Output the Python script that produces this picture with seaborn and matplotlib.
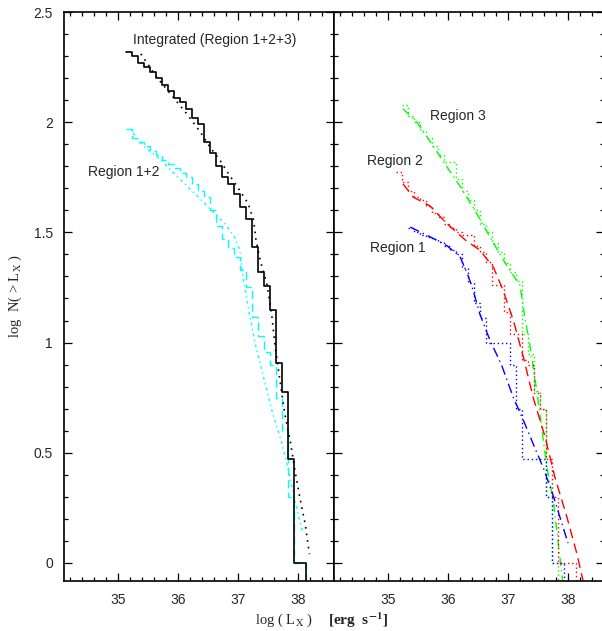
import numpy as np
import matplotlib
matplotlib.use("Agg")
import matplotlib.pyplot as plt
from matplotlib.ticker import MultipleLocator, FixedLocator, FixedFormatter
import seaborn as sns

# --- data (log L_X bins and cumulative log N(>L_X)) ---
bin_edges = np.round(np.arange(35.14, 38.25, 0.1), 2)

# step curves: first bin index + log N per bin
integ_start = 0
integ_logn = [2.317, 2.30, 2.27, 2.25, 2.23, 2.20, 2.17, 2.14, 2.11, 2.09,
              2.06, 2.02, 1.99, 1.91, 1.86, 1.80, 1.75, 1.72, 1.676, 1.615,
              1.56, 1.433, 1.32, 1.255, 1.146, 0.906, 0.777, 0.47, 0.0, 0.0]
reg12_start = 0
reg12_logn = [1.968, 1.93, 1.91, 1.89, 1.87, 1.85, 1.83, 1.81, 1.79, 1.77,
              1.75, 1.72, 1.69, 1.66, 1.60, 1.53, 1.47, 1.43, 1.39, 1.33,
              1.25, 1.115, 1.03, 0.956, 0.90, 0.75, 0.60, 0.30, 0.0, 0.0]
reg3_start = 1
reg3_logn = [2.08, 2.03, 2.00, 1.96, 1.93, 1.89, 1.85, 1.82, 1.82, 1.74,
             1.69, 1.645, 1.60, 1.54, 1.50, 1.45, 1.41, 1.36, 1.32, 1.28,
             1.04, 0.95, 0.78, 0.70, 0.30, 0.0]
reg2_start = 0
reg2_logn = [1.774, 1.73, 1.69, 1.66, 1.645, 1.62, 1.59, 1.57, 1.54, 1.52,
             1.50, 1.49, 1.49, 1.44, 1.41, 1.365, 1.26, 1.26, 1.14, 1.04,
             1.04, 0.92, 0.90, 0.77, 0.70, 0.47, 0.30, 0.0, 0.0, 0.0]
reg1_start = 2
reg1_logn = [1.52, 1.50, 1.49, 1.48, 1.47, 1.456, 1.44, 1.42, 1.40, 1.34,
             1.27, 1.18, 1.11, 1.00, 1.00, 1.00, 1.00, 0.90, 0.70, 0.47,
             0.47, 0.47, 0.47, 0.30, 0.0, 0.0]

# model curves
integ_fit_x = [35.38, 35.64, 35.87, 36.14, 36.37, 36.53, 36.7, 36.84, 37.03, 37.17, 37.26,
               37.3, 37.37, 37.48, 37.56, 37.62, 37.7, 37.78, 37.87, 37.95, 38.03, 38.12, 38.19]
integ_fit_y = [2.31, 2.206, 2.13, 2.04, 1.956, 1.888, 1.827, 1.767, 1.69, 1.63, 1.555,
               1.464, 1.373, 1.267, 1.13, 0.98, 0.827, 0.676, 0.555, 0.418, 0.297, 0.176, 0.04]
reg12_fit_x = [35.25, 35.44, 35.72, 36.0, 36.28, 36.56, 36.78, 36.94, 37.03, 37.08,
               37.19, 37.3, 37.44, 37.58, 37.72, 37.83, 37.94, 38.03, 38.08]
reg12_fit_y = [1.95, 1.888, 1.827, 1.75, 1.676, 1.6, 1.54, 1.48, 1.42, 1.30,
               1.13, 0.98, 0.827, 0.676, 0.555, 0.433, 0.297, 0.19, 0.14]
reg3_fit_x = [35.25, 35.48, 35.76, 35.9, 36.2, 36.48, 36.76, 37.0, 37.2, 37.28,
              37.37, 37.48, 37.56, 37.64, 37.76, 37.84, 37.91]
reg3_fit_y = [2.06, 2.0, 1.89, 1.83, 1.71, 1.585, 1.45, 1.34, 1.26, 1.115,
              0.98, 0.78, 0.615, 0.45, 0.27, 0.085, -0.08]
reg2_fit_x = [35.25, 35.42, 35.7, 35.98, 36.31, 36.53, 36.76, 36.92, 37.09, 37.26,
              37.42, 37.62, 37.78, 37.98, 38.15, 38.25]
reg2_fit_y = [1.72, 1.66, 1.62, 1.54, 1.46, 1.42, 1.34, 1.236, 1.10, 0.93,
              0.75, 0.57, 0.39, 0.21, 0.04, -0.08]
reg1_fit_x = [35.37, 35.7, 35.98, 36.2, 36.34, 36.42, 36.53, 36.7, 36.89, 37.09,
              37.26, 37.42, 37.59, 37.76, 37.92, 38.0]
reg1_fit_y = [1.524, 1.48, 1.44, 1.39, 1.30, 1.236, 1.13, 1.01, 0.90, 0.75,
              0.645, 0.54, 0.43, 0.30, 0.16, 0.09]

x_ticks = [35, 36, 37, 38]
y_ticks = [0, 0.5, 1, 1.5, 2, 2.5]
y_tick_labels = ["0", "0.5", "1", "1.5", "2", "2.5"]


def step_curve(start, logn):
    # cumulative step, dropping off the bottom after the last bin
    x = bin_edges[start:start + len(logn) + 1]
    y = np.append(logn, -1.0)
    return x, y


def draw_step(ax, start, logn, color, ls, lw):
    x, y = step_curve(start, logn)
    sns.lineplot(x=x, y=y, ax=ax, estimator=None, sort=False, drawstyle="steps-post",
                 color=color, linestyle=ls, linewidth=lw)


def draw_fit(ax, x, y, color, ls, lw):
    sns.lineplot(x=x, y=y, ax=ax, estimator=None, sort=False,
                 color=color, linestyle=ls, linewidth=lw)


sns.set_style("ticks")
plt.rcParams["font.family"] = ["Liberation Sans", "DejaVu Sans"]
plt.rcParams["mathtext.fontset"] = "stix"

fig = plt.figure(figsize=(6.02, 6.31), dpi=100)
ax1 = fig.add_axes([64 / 602, 50 / 631, 270 / 602, 569 / 631])
ax2 = fig.add_axes([334 / 602, 50 / 631, 270 / 602, 569 / 631])

# ---- left panel: integrated and region 1+2 ----
draw_fit(ax1, reg12_fit_x, reg12_fit_y, "#00ffff", (0, (2, 2.5, 1, 2.5)), 1.0)
draw_step(ax1, reg12_start, reg12_logn, "#00ffff", (0, (6, 3)), 1.0)
draw_fit(ax1, integ_fit_x, integ_fit_y, "black", (0, (1, 3)), 1.2)
draw_step(ax1, integ_start, integ_logn, "black", "-", 1.2)
ax1.text(35.25, 2.373, "Integrated (Region 1+2+3)", fontsize=10, ha="left", va="center")
ax1.text(34.5, 1.773, "Region 1+2", fontsize=10, ha="left", va="center")

# ---- right panel: individual regions ----
draw_fit(ax2, reg3_fit_x, reg3_fit_y, "#00ff00", (0, (6, 3, 1, 3)), 1.0)
draw_step(ax2, reg3_start, reg3_logn, "#00ff00", (0, (1, 2)), 1.0)
draw_fit(ax2, reg2_fit_x, reg2_fit_y, "#ff0000", (0, (7, 4)), 1.0)
draw_step(ax2, reg2_start, reg2_logn, "#ff0000", (0, (1, 2)), 1.0)
draw_fit(ax2, reg1_fit_x, reg1_fit_y, "#0000ff", (0, (7, 3, 1, 3)), 1.0)
draw_step(ax2, reg1_start, reg1_logn, "#0000ff", (0, (1, 2)), 1.0)
ax2.text(35.7, 2.027, "Region 3", fontsize=10, ha="left", va="center")
ax2.text(34.65, 1.823, "Region 2", fontsize=10, ha="left", va="center")
ax2.text(34.7, 1.427, "Region 1", fontsize=10, ha="left", va="center")

for ax in (ax1, ax2):
    ax.set_xlim(34.1, 38.6)
    ax.set_ylim(-0.082, 2.5)
    ax.set_xlabel("")
    ax.set_ylabel("")
    ax.xaxis.set_major_locator(FixedLocator(x_ticks))
    ax.xaxis.set_minor_locator(MultipleLocator(0.2))
    ax.yaxis.set_major_locator(FixedLocator(y_ticks))
    ax.yaxis.set_minor_locator(MultipleLocator(0.1))
    ax.tick_params(which="both", direction="in", top=True, right=True,
                   color="black", width=0.9)
    ax.tick_params(which="major", length=5.5)
    ax.tick_params(which="minor", length=3)
    ax.tick_params(axis="x", which="major", pad=9, labelsize=10)
    ax.tick_params(axis="y", which="major", pad=8, labelsize=10)
    for sp in ax.spines.values():
        sp.set_visible(True)
        sp.set_linewidth(1.2)
        sp.set_color("black")

ax1.yaxis.set_major_formatter(FixedFormatter(y_tick_labels))
ax2.tick_params(axis="y", labelleft=False)

fig.text(15 / 602, 1 - 296 / 631, r"log  N( > L$_{\rm X}$ )", family="Liberation Serif",
         fontsize=10.5, rotation=90, ha="center", va="center")
fig.text(255 / 602, 1 - 620 / 631, r"log ( L$_{\rm X}$ )", family="Liberation Serif",
         fontsize=10.5, ha="left", va="center")
fig.text(328 / 602, 1 - 620 / 631, r"[erg  s$^{\mathbf{-1}}$]", family="Liberation Serif",
         fontsize=11, fontweight="bold", ha="left", va="center")

fig.savefig("out.png", dpi=100)
